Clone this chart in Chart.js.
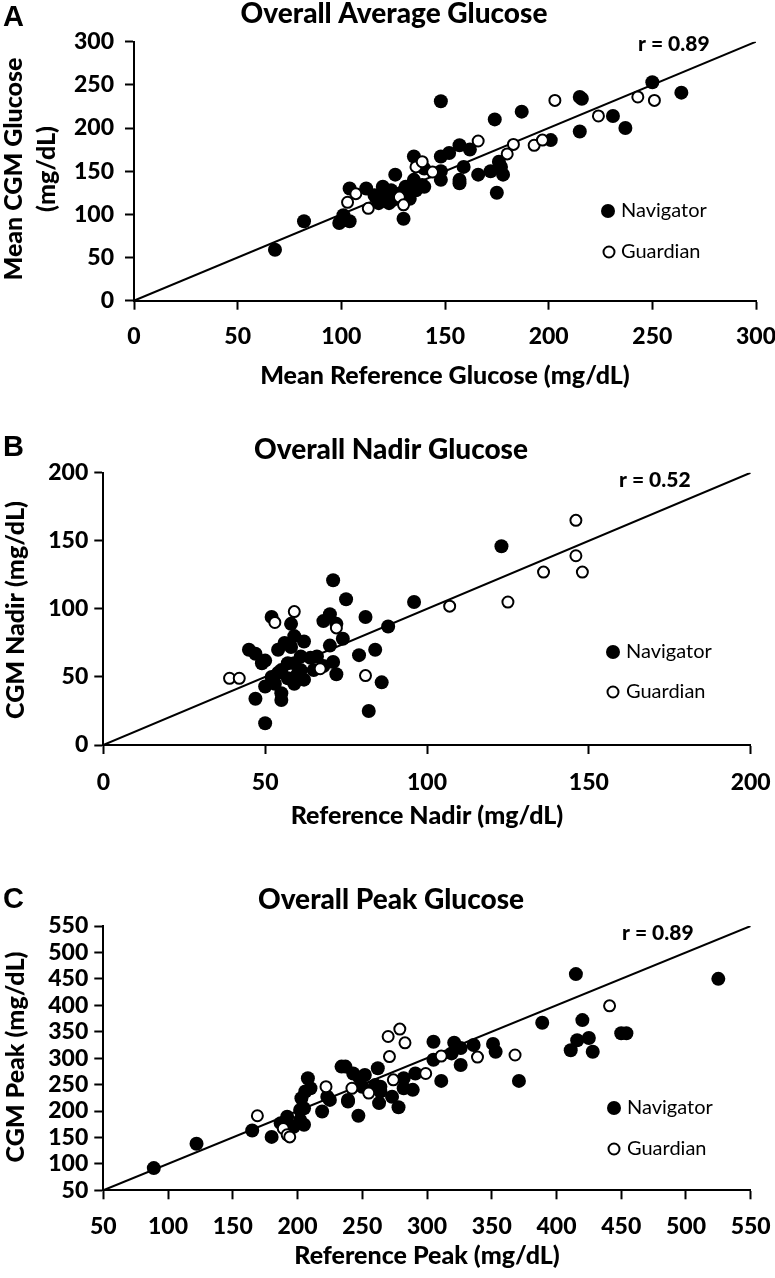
<!DOCTYPE html>
<html><head><meta charset="utf-8">
<script src="https://cdn.jsdelivr.net/npm/chart.js@4.4.1/dist/chart.umd.min.js"></script>
<style>
html,body{margin:0;padding:0;background:#fff;}
body{width:775px;height:1278px;position:relative;overflow:hidden;}
canvas{position:absolute;left:0;}
</style></head><body>
<canvas id="cA" width="775" height="420" style="top:0px"></canvas>
<canvas id="cB" width="775" height="420" style="top:420px"></canvas>
<canvas id="cC" width="775" height="438" style="top:840px"></canvas>
<script>
// ---- Data (x = reference, y = CGM), mg/dL ----
const navA = [[68,59],[82,92],[99,90],[104,92],[101,99],[104,130],[112,130],[116,122],[120,132],[118,113],[123,113],[126,146],[124,128],[127,120],[130,95],[131,132],[135,140],[136,128],[140,132],[135,167],[140,153],[148,167],[148,140],[152,171],[157,180],[157,140],[162,175],[159,155],[166,146],[172,150],[176,161],[178,146],[175,125],[148,231],[174,210],[187,219],[215,236],[216,234],[250,253],[264,241],[231,214],[237,200],[215,196],[201,186],[135,137],[139,134],[121,120],[125,117],[177,155],[157,136],[148,150],[129,125],[122,126],[133,118]];
const guaA = [[103,114],[107,124],[113,107],[128,120],[130,111],[136,155],[139,161],[144,149],[166,185],[180,170],[183,181],[193,180],[197,186],[203,232],[224,214],[243,236],[251,232]];

const navB = [[50,16],[47,34],[45,70],[47,67],[49,60],[50,62],[52,94],[58,89],[59,80],[62,76],[71,121],[75,107],[68,91],[70,96],[72,89],[74,78],[70,73],[81,94],[88,87],[79,66],[84,70],[86,46],[82,25],[72,52],[71,61],[64,64],[66,65],[56,75],[54,70],[58,72],[55,55],[52,50],[50,43],[55,38],[55,33],[59,60],[59,45],[61,55],[62,48],[57,60],[61,65],[65,55],[57,49],[54,53],[96,105],[123,146],[53,45],[60,52],[68,58]];
const guaB = [[39,49],[42,49],[53,90],[59,98],[72,86],[67,56],[81,51],[107,102],[125,105],[136,127],[146,139],[146,165],[148,127]];

const navC = [[89,92],[122,138],[165,163],[180,151],[192,189],[197,170],[202,183],[203,224],[206,237],[208,262],[210,243],[205,205],[205,174],[187,177],[194,170],[219,199],[223,227],[225,221],[239,218],[234,284],[237,284],[247,191],[243,271],[248,262],[252,268],[250,246],[262,281],[264,246],[264,237],[260,249],[278,207],[273,227],[282,262],[282,243],[291,271],[289,240],[263,215],[305,331],[305,297],[321,329],[326,319],[319,309],[326,287],[311,257],[336,325],[351,327],[353,312],[371,257],[389,367],[411,315],[416,334],[420,372],[425,338],[428,312],[415,459],[450,347],[454,347],[525,450],[239,221],[202,202]];
const guaC = [[169,191],[189,167],[192,155],[194,151],[222,246],[242,243],[255,234],[270,341],[271,303],[274,259],[279,355],[283,329],[299,271],[311,304],[339,302],[368,306],[441,399]];

const rValues = ['r = 0.89', 'r = 0.52', 'r = 0.89'];
const panelLetters = ['A', 'B', 'C'];
const panelTitles = ['Overall Average Glucose', 'Overall Nadir Glucose', 'Overall Peak Glucose'];
const xTitles = ['Mean Reference Glucose (mg/dL)', 'Reference Nadir (mg/dL)', 'Reference Peak (mg/dL)'];
const yTitles = [['Mean CGM Glucose', '(mg/dL)'], ['CGM Nadir (mg/dL)'], ['CGM Peak (mg/dL)']];
const axisRanges = [[0, 300, 50], [0, 200, 50], [50, 550, 50]];
const seriesNames = ['Navigator', 'Guardian'];

const FONT = 'Lato, "Open Sans", sans-serif';

function pts(a){ return a.map(p => ({x:p[0], y:p[1]})); }

function build(){
  const layouts = [
    {id:'cA', left:134, top:41.7, right:19, xh:119.3, ypad:11, xpad:13,
     letter:[3,18], title:[394,14], r:[638,44], leg:[[608,211],[609,252]], legTx:621,
     ytitle:[[14,169],[47,169]], xtitle:[445,376]},
    {id:'cB', left:103.3, top:52.7, right:24.3, xh:95, ypad:6, xpad:15,
     letter:[3,28], title:[391,30], r:[619,60], leg:[[613,232],[613,272]], legTx:626,
     ytitle:[[16,190]], xtitle:[427,396]},
    {id:'cC', left:103.3, top:86, right:24.3, xh:87.7, ypad:6, xpad:13,
     letter:[3,60], title:[391,60], r:[622,93], leg:[[614,268],[614,309]], legTx:627,
     ytitle:[[16,217]], xtitle:[427,416]}
  ];
  const navs = [navA, navB, navC];
  const guas = [guaA, guaB, guaC];

  layouts.forEach((L, i) => {
    const [mn, mx, st] = axisRanges[i];
    const annot = {
      id:'annot'+i,
      afterDraw(chart){
        const c = chart.ctx;
        c.save();
        c.fillStyle = '#000';
        c.font = 'bold 29px "Liberation Sans", Arial, sans-serif';
        c.textAlign = 'left'; c.textBaseline = 'middle';
        c.fillText(panelLetters[i], L.letter[0], L.letter[1]);
        c.font = '900 28px ' + FONT;
        c.textAlign = 'center';
        c.fillText(panelTitles[i], L.title[0], L.title[1]);
        c.font = '900 21px ' + FONT;
        c.textAlign = 'left';
        c.fillText(rValues[i], L.r[0], L.r[1]);
        c.font = '900 25px ' + FONT;
        c.textAlign = 'center';
        c.fillText(xTitles[i], L.xtitle[0], L.xtitle[1]);
        yTitles[i].forEach((t, k) => {
          c.save();
          c.translate(L.ytitle[k][0], L.ytitle[k][1]);
          c.rotate(-Math.PI/2);
          c.fillText(t, 0, 0);
          c.restore();
        });
        c.font = '20px ' + FONT;
        c.textAlign = 'left';
        c.beginPath(); c.arc(L.leg[0][0], L.leg[0][1], 7, 0, Math.PI*2); c.fillStyle='#000'; c.fill();
        c.fillText(seriesNames[0], L.legTx, L.leg[0][1]);
        c.beginPath(); c.arc(L.leg[1][0], L.leg[1][1], 5.5, 0, Math.PI*2);
        c.fillStyle='#fff'; c.fill(); c.lineWidth=2; c.strokeStyle='#000'; c.stroke();
        c.fillStyle='#000';
        c.fillText(seriesNames[1], L.legTx, L.leg[1][1]);
        c.restore();
      }
    };
    const tickFont = {family:FONT, size:23, weight:'900'};
    new Chart(document.getElementById(L.id), {
      type:'scatter',
      data:{datasets:[
        {label:seriesNames[1], data:pts(guas[i]), order:0, pointRadius:5.5, pointBackgroundColor:'#fff', pointBorderColor:'#000', pointBorderWidth:2, showLine:false},
        {label:seriesNames[0], data:pts(navs[i]), order:1, pointRadius:7, pointBackgroundColor:'#000', pointBorderColor:'#000', pointBorderWidth:0, showLine:false},
        {label:'line', data:[{x:mn,y:mn},{x:mx,y:mx}], order:2, showLine:true, pointRadius:0, borderColor:'#000', borderWidth:2, fill:false}
      ]},
      options:{
        responsive:false, animation:false, events:[],
        layout:{padding:{top:L.top, right:L.right, bottom:0, left:0}},
        plugins:{legend:{display:false}, tooltip:{enabled:false}, title:{display:false}},
        scales:{
          x:{type:'linear', position:'bottom', min:mn, max:mx,
             ticks:{stepSize:st, font:tickFont, color:'#000', padding:L.xpad, autoSkip:false, maxRotation:0, includeBounds:true},
             grid:{display:true, drawOnChartArea:false, drawTicks:true, tickLength:9, tickWidth:2, tickColor:'#000', color:'#000'},
             border:{display:true, color:'#000', width:2},
             afterFit(s){ s.height = L.xh; s.paddingLeft = 0; s.paddingRight = 0; }},
          y:{type:'linear', position:'left', min:mn, max:mx,
             ticks:{stepSize:st, font:tickFont, color:'#000', padding:L.ypad, autoSkip:false},
             grid:{display:true, drawOnChartArea:false, drawTicks:true, tickLength:9, tickWidth:2, tickColor:'#000', color:'#000'},
             border:{display:true, color:'#000', width:2},
             afterFit(s){ s.width = L.left; s.paddingTop = 0; s.paddingBottom = 0; }}
        }
      },
      plugins:[annot]
    });
  });
}

const fontLoads = [document.fonts.load('900 23px Lato'), document.fonts.load('20px Lato'), document.fonts.load('bold 29px "Liberation Sans"')];
let built = false;
function go(){ if(!built){ built = true; build(); } }
Promise.all(fontLoads).then(go, go);
setTimeout(go, 1500);
</script>
</body></html>
